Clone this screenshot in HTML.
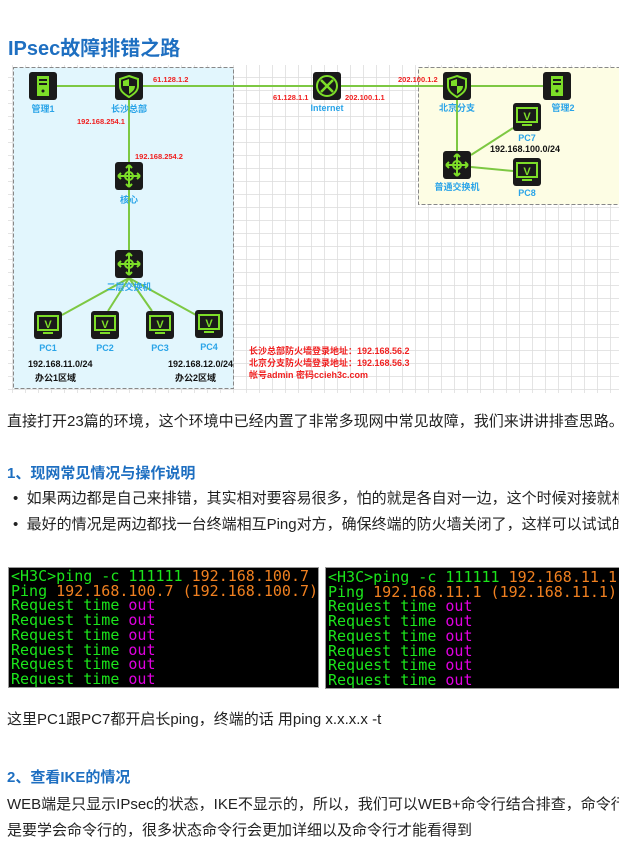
<!DOCTYPE html>
<html><head><meta charset="utf-8"><style>
body{margin:0;width:619px;height:846px;overflow:hidden;background:#fff;font-family:"Liberation Sans","Noto Sans CJK SC",sans-serif;position:relative}
.t{position:absolute;white-space:nowrap;color:#222;font-size:15px}
.h{color:#1e6fc1;font-weight:bold}
.term{position:absolute;background:#000;border:1px solid #999;font-family:"DejaVu Sans Mono","Liberation Mono",monospace;font-size:15px;line-height:14.7px;color:#1be51b;white-space:nowrap;overflow:hidden;padding:1px 2px;box-sizing:border-box;letter-spacing:0}
.o{color:#f08020}.m{color:#e000e0}
</style></head><body>
<div class="t h" style="left:8px;top:32px;font-size:20px">IPsec故障排错之路</div>
<svg style="position:absolute;left:0;top:0" width="619" height="400" font-family="Liberation Sans,Noto Sans CJK SC,sans-serif">
<defs>
<pattern id="g" width="13" height="13" patternUnits="userSpaceOnUse"><path d="M13 0V13H0" fill="none" stroke="#dcdcdc" stroke-width="1.5"/></pattern>
<g id="pc"><rect width="28" height="28" rx="3" fill="#1a1a1a"/><rect x="4" y="5" width="20" height="14" fill="none" stroke="#7dde28" stroke-width="2"/><text x="14" y="17" font-size="11" font-weight="bold" fill="#7dde28" text-anchor="middle">V</text><rect x="9" y="21" width="10" height="2" fill="#7dde28"/></g>
<g id="sw"><rect width="28" height="28" rx="3" fill="#1a1a1a"/><circle cx="14" cy="14" r="4" fill="none" stroke="#7dde28" stroke-width="2"/><path d="M14 3V25M3 14H25M14 3l-3 3M14 3l3 3M14 25l-3-3M14 25l3-3M3 14l3-3M3 14l3 3M25 14l-3-3M25 14l-3 3" stroke="#7dde28" stroke-width="2" fill="none"/></g>
<g id="fw"><rect width="28" height="28" rx="3" fill="#1a1a1a"/><path d="M14 4L23 7V14C23 19 19 22 14 25C9 22 5 19 5 14V7Z" fill="none" stroke="#7dde28" stroke-width="2"/><path d="M14 7V14H20V14C20 18 17 20 14 22V14H8V9Z" fill="#7dde28"/></g>
<g id="sv"><rect width="28" height="28" rx="3" fill="#1a1a1a"/><rect x="8" y="4" width="12" height="20" fill="#7dde28"/><rect x="10" y="7" width="8" height="2" fill="#1a1a1a"/><rect x="10" y="11" width="8" height="2" fill="#1a1a1a"/><circle cx="14" cy="19" r="1.5" fill="#1a1a1a"/></g>
</defs>
<rect x="8" y="65" width="611" height="328" fill="url(#g)"/>
<rect x="13.5" y="67.5" width="220" height="321" fill="#e2f6fd" stroke="#888" stroke-dasharray="4,2"/>
<rect x="418.5" y="67.5" width="205" height="137" fill="#fdfde4" stroke="#888" stroke-dasharray="4,2"/>
<g stroke="#7dc843" stroke-width="2" fill="none">
<path d="M57 86H543"/><path d="M129 100V264"/><path d="M457 100V165"/>
<path d="M471 155L513 128M471 167L513 171"/>
<path d="M129 278L62 315M129 278L108 311M129 278L152 311M129 278L196 315"/>
</g>
<use href="#sv" x="29" y="72"/><use href="#fw" x="115" y="72"/><use href="#sw" x="115" y="162"/><use href="#sw" x="115" y="250"/>
<use href="#pc" x="34" y="311"/><use href="#pc" x="91" y="311"/><use href="#pc" x="146" y="311"/><use href="#pc" x="195" y="310"/>
<rect x="313" y="72" width="28" height="28" rx="3" fill="#1a1a1a"/><circle cx="327" cy="86" r="10" fill="none" stroke="#7dde28" stroke-width="2"/><path d="M321 80L333 92M333 80L321 92" stroke="#7dde28" stroke-width="2.5"/>
<use href="#fw" x="443" y="72"/><use href="#sv" x="543" y="72"/><use href="#pc" x="513" y="103"/><use href="#sw" x="443" y="151"/><use href="#pc" x="513" y="158"/>
<g font-size="9" fill="#2aa4e8" text-anchor="middle" font-weight="bold">
<text x="43" y="112">管理1</text><text x="129" y="112">长沙总部</text><text x="129" y="203">核心</text><text x="129" y="290">二层交换机</text>
<text x="48" y="351">PC1</text><text x="105" y="351">PC2</text><text x="160" y="351">PC3</text><text x="209" y="350">PC4</text>
<text x="327" y="111">Internet</text><text x="457" y="111">北京分支</text><text x="563" y="111">管理2</text><text x="527" y="141">PC7</text><text x="457" y="190">普通交换机</text><text x="527" y="196">PC8</text>
</g>
<g font-size="7.5" fill="#f02020" font-weight="bold">
<text x="153" y="82">61.128.1.2</text><text x="77" y="124">192.168.254.1</text><text x="135" y="159">192.168.254.2</text>
<text x="273" y="100">61.128.1.1</text><text x="345" y="100">202.100.1.1</text><text x="398" y="82">202.100.1.2</text>
</g>
<g font-size="9" font-weight="bold" fill="#111">
<text x="28" y="367">192.168.11.0/24</text><text x="168" y="367">192.168.12.0/24</text><text x="490" y="152">192.168.100.0/24</text>
<text x="35" y="381">办公1区域</text><text x="175" y="381">办公2区域</text>
</g>
<g font-size="9" font-weight="bold" fill="#f02020">
<text x="249" y="354">长沙总部防火墙登录地址：192.168.56.2</text>
<text x="249" y="366">北京分支防火墙登录地址：192.168.56.3</text>
<text x="249" y="378">帐号admin 密码ccieh3c.com</text>
</g>
</svg>
<div class="t" style="left:7px;top:410px">直接打开23篇的环境，这个环境中已经内置了非常多现网中常见故障，我们来讲讲排查思路。_</div>
<div class="t h" style="left:7px;top:462px;font-size:15px">1、现网常见情况与操作说明</div>
<div class="t" style="left:13px;top:487px">•&nbsp; 如果两边都是自己来排错，其实相对要容易很多，怕的就是各自对一边，这个时候对接就相</div>
<div class="t" style="left:13px;top:513px">•&nbsp; 最好的情况是两边都找一台终端相互Ping对方，确保终端的防火墙关闭了，这样可以试试的</div>
<div class="term" style="left:8px;top:567px;width:311px;height:121px">&lt;H3C&gt;ping -c 111111 <span class="o">192.168.100.7</span><br>Ping <span class="o">192.168.100.7 (192.168.100.7)</span><br>Request time <span class="m">out</span><br>Request time <span class="m">out</span><br>Request time <span class="m">out</span><br>Request time <span class="m">out</span><br>Request time <span class="m">out</span><br>Request time <span class="m">out</span></div>
<div class="term" style="left:325px;top:567px;width:300px;height:122px;padding-top:2px">&lt;H3C&gt;ping -c 111111 <span class="o">192.168.11.1</span><br>Ping <span class="o">192.168.11.1 (192.168.11.1)</span><br>Request time <span class="m">out</span><br>Request time <span class="m">out</span><br>Request time <span class="m">out</span><br>Request time <span class="m">out</span><br>Request time <span class="m">out</span><br>Request time <span class="m">out</span></div>
<div class="t" style="left:7px;top:708px">这里PC1跟PC7都开启长ping，终端的话 用ping x.x.x.x -t</div>
<div class="t h" style="left:7px;top:766px;font-size:15px">2、查看IKE的情况</div>
<div class="t" style="left:7px;top:793px">WEB端是只显示IPsec的状态，IKE不显示的，所以，我们可以WEB+命令行结合排查，命令行主</div>
<div class="t" style="left:7px;top:819px">是要学会命令行的，很多状态命令行会更加详细以及命令行才能看得到</div>
</body></html>
